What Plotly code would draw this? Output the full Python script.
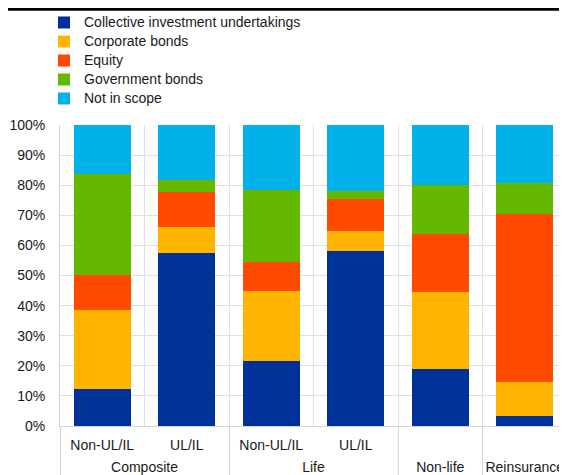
import plotly.graph_objects as go

groups = ["Composite", "Composite", "Life", "Life", "Non-life", "Reinsurance"]
subcats = ["Non-UL/IL", "UL/IL", "Non-UL/IL", "UL/IL", " ", "  "]

series_names = ["Collective investment undertakings", "Corporate bonds", "Equity",
                "Government bonds", "Not in scope"]
ciu = [12.3, 57.4, 21.5, 58.2, 18.9, 3.4]
corporate = [26.2, 8.8, 23.3, 6.6, 25.7, 11.2]
equity = [11.7, 11.4, 9.8, 10.5, 19.3, 55.9]
government = [33.4, 4.0, 23.7, 2.7, 16.1, 10.2]
not_in_scope = [16.4, 18.4, 21.7, 22.0, 20.0, 19.3]
colors = ["#003299", "#FFB400", "#FF4B00", "#65B800", "#00B1EA"]

y_ticks = [0, 0.1, 0.2, 0.3, 0.4, 0.5, 0.6, 0.7, 0.8, 0.9, 1.0]

# invisible padding around the inner labels so the outer labels sit a bit lower
pad = "<span style='font-size:23px'>\u00a0</span>"
inner_labels = [pad + s + pad for s in subcats]

fig = go.Figure()
for name, vals, col in zip(series_names, [ciu, corporate, equity, government, not_in_scope], colors):
    fig.add_trace(go.Bar(
        x=[groups, inner_labels], y=[v / 100 for v in vals],
        name=f"<span style='font-size:14px'>{name}</span>",
        marker=dict(color=col, line=dict(width=0)),
    ))

# the page adds an 8px body margin; the figure is sized to fill the rest of the window
W, H = 559, 467
font = dict(family="Liberation Sans, Arial, sans-serif", size=14, color="#1a1a1a")
# smaller legend base font gives tighter rows; the text itself is 14px via the span
legend_font = dict(family="Liberation Sans, Arial, sans-serif", size=12.3, color="#1a1a1a")
fig.update_layout(
    width=W, height=H,
    margin=dict(l=52, r=0, t=117, b=49, autoexpand=False),
    barmode="stack", bargap=0.325,
    plot_bgcolor="white", paper_bgcolor="white",
    font=font,
    showlegend=True,
    legend=dict(
        traceorder="normal", xref="container", yref="container",
        x=36 / W, y=1 + 4 / H, xanchor="left", yanchor="top",
        font=legend_font, bgcolor="rgba(0,0,0,0)", itemclick=False,
    ),
    xaxis=dict(
        type="multicategory", tickson="boundaries", showgrid=True,
        gridcolor="#e0e0e0", gridwidth=1, showline=True, linecolor="#d4d4d4",
        showdividers=True, dividercolor="#d4d4d4", dividerwidth=1,
        ticks="", tickfont=font, tickangle=0, ticklabelstandoff=6,
    ),
    yaxis=dict(
        range=[0, 1], tickvals=y_ticks, tickformat=".0%", showgrid=True,
        gridcolor="#e0e0e0", gridwidth=1, showline=True, linecolor="#d4d4d4",
        zeroline=False, ticklabelstandoff=11, tickfont=font,
    ),
    shapes=[dict(type="line", xref="paper", yref="paper",
                 x0=-52 / 507, x1=1.0, y0=(418 - 1) / 301, y1=(418 - 1) / 301,
                 line=dict(color="black", width=3.5))],
)

fig.write_html("out.html")
